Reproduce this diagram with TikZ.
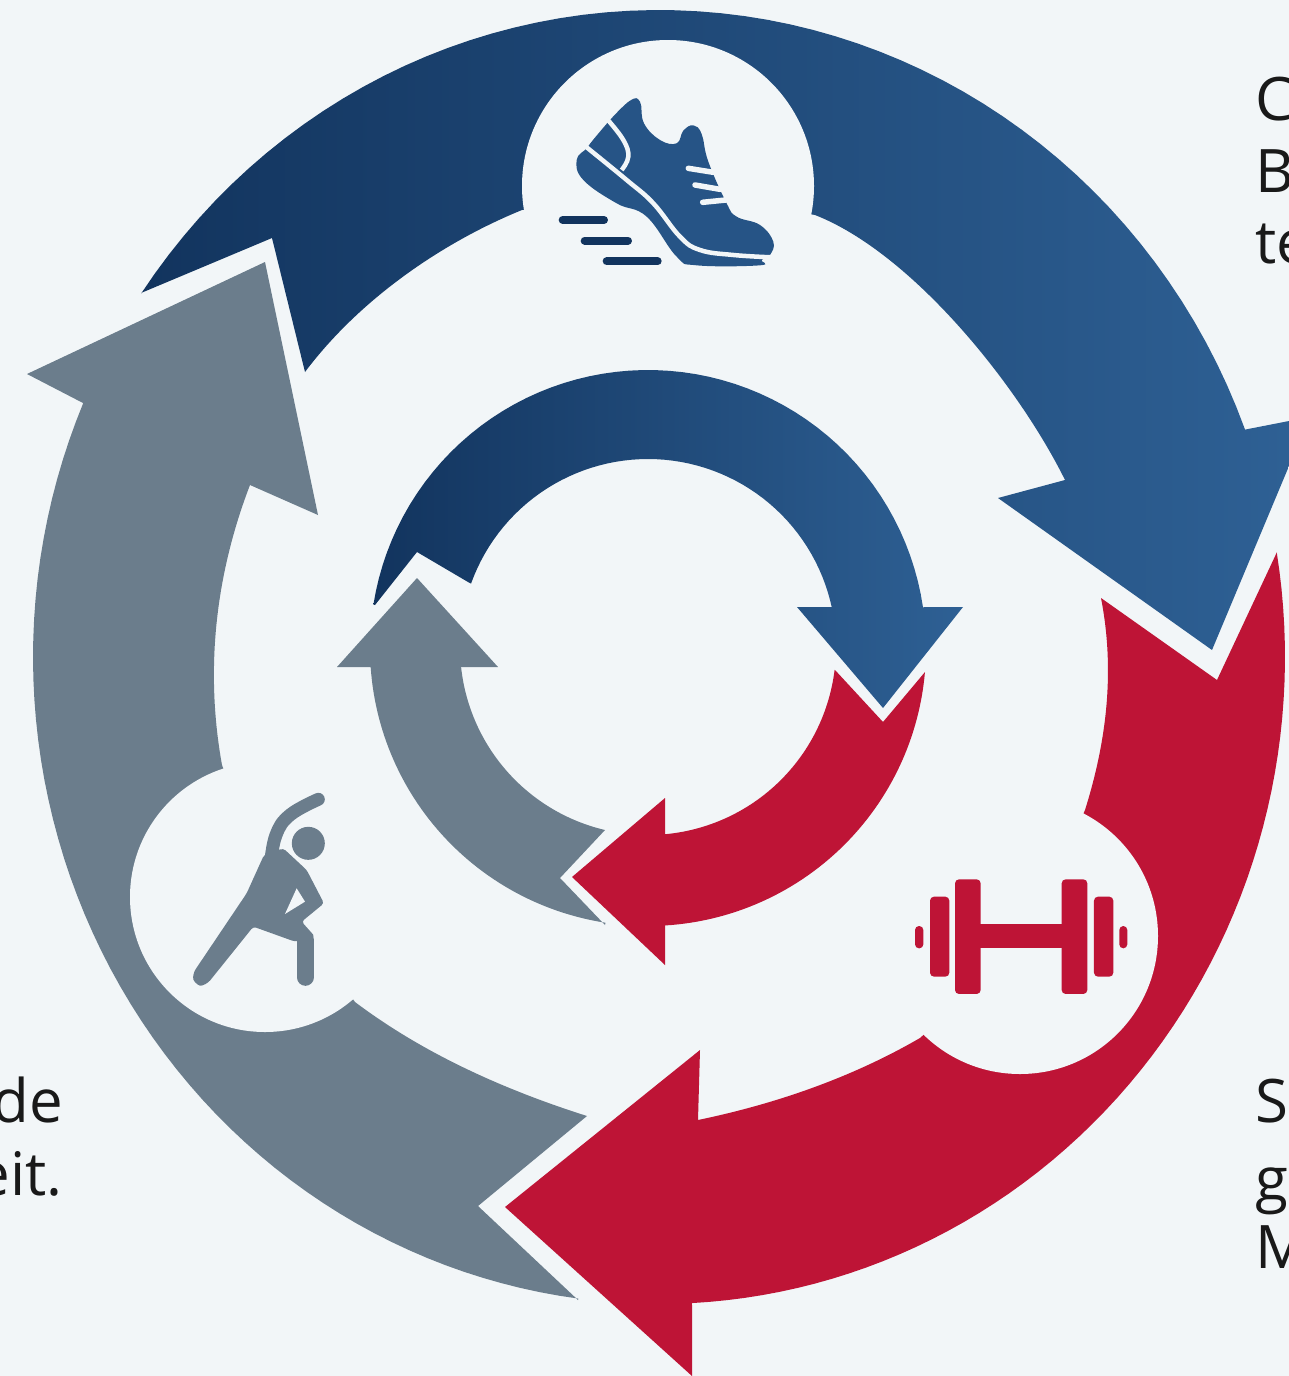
\documentclass[tikz,border=0pt]{standalone}
\usepackage{fontspec}
\setmainfont{Open Sans}
\usepackage{tikz}
\definecolor{paper}{HTML}{F2F6F8}
\definecolor{navydark}{HTML}{12345E}
\definecolor{navyshade}{HTML}{1F4A7A}
\definecolor{navymid}{HTML}{265486}
\definecolor{navylight}{HTML}{2E6094}
\definecolor{slategrey}{HTML}{6B7D8C}
\definecolor{crimson}{HTML}{BE1436}
\newcommand{\ringarc}[6]{-- plot[domain=#5:#6, samples=60, variable=\t] ({#1+#3*cos(\t)},{#2+#4*sin(\t)})}
\tikzset{
  navyfill/.style={left color=navydark, middle color=navyshade, right color=navylight},
  greyfill/.style={fill=slategrey},
  redfill/.style={fill=crimson},
  curve/.style={smooth, tension=0.7},
  badge/.style={circle, fill=paper, inner sep=0pt},
  clipped/.style={font=\fontsize{60}{72}\selectfont, text=black!90, inner sep=0pt},
  plate/.style={fill=crimson, rounded corners=4pt},
  limb/.style={draw=slategrey, line cap=round, line join=round},
}

\begin{document}
\begin{tikzpicture}[x=1pt, y=-1pt]
            \fill[paper] (0,0) rectangle (1289,1376);
            \useasboundingbox (0,0) rectangle (1289,1376);

            % outer ring
            \shade[navyfill] (141,293) \ringarc{659}{657}{626}{647}{214.2}{339.4}
              -- (1243,430) -- (1289,421) -- (1289,466) -- (1212,650) -- (998,498) -- (1065,480)
              .. controls (1018,385) and (912,253) .. (815,215) -- (668,190) -- (522,210)
              .. controls (441,243) and (359,300) .. (305,372)
              -- (272,238) -- cycle;
            \fill[greyfill] (83,403) \ringarc{659}{657}{626}{647}{203.1}{97.4}
              -- (578,1300) -- (478,1206) -- (587,1116)
              .. controls (505,1090) and (424,1054) .. (355,1002) -- (265,880) -- (222,765)
              .. controls (205,671) and (215,576) .. (250,485)
              -- (318,515) -- (265,262) -- (27,374) -- cycle;
            \fill[redfill] (1277,552) \ringarc{659}{657}{626}{647}{-9.3}{87}
              -- (692,1305) -- (692,1376) -- (505,1207) -- (700,1050) -- (698,1120)
              .. controls (775,1104) and (851,1078) .. (920,1038) -- (1030,940) -- (1085,810)
              .. controls (1107,740) and (1115,670) .. (1101,598)
              -- (1217,680) -- cycle;

            % inner ring
            \shade[navyfill] (375,605) \ringarc{648}{648}{278}{278}{189}{351.6}
              -- (925,607) -- (963,607) -- (883,708) -- (797,607) -- (835,607)
              \ringarc{648}{647}{188}{188}{-12}{-160.3}
              -- (468,582) -- (417,552) -- cycle;
            \fill[greyfill] (372,667) \ringarc{648}{648}{278}{278}{176}{98.8}
              -- (605,925) -- (560,878) -- (605,830)
              \ringarc{648}{647}{188}{188}{103.2}{173.9}
              -- (462,667) -- (498,667) -- (417,578) -- (337,667) -- cycle;
            \fill[redfill] (925,672) \ringarc{648}{648}{278}{278}{5}{86.5}
              -- (665,925) -- (665,965) -- (572,877) -- (665,798) -- (665,833)
              \ringarc{648}{647}{188}{188}{84.8}{7}
              -- (835,670) -- (883,722) -- cycle;

            \node[badge, minimum size=292pt] (shoeBadge)    at (668,186) {};
            \node[badge, minimum size=270pt] (stretchBadge) at (265,897) {};
            \node[badge, minimum size=276pt] (weightBadge)  at (1020,936) {};

            % shoe
            \begin{scope}[shift={(520,60)}, x=0.3333pt, y=-0.3333pt]
            \fill[navymid] plot[curve] coordinates {(270,180) (330,122) (360,125) (372,190) (420,240) (470,250) (490,212) (520,196) (545,222) (565,305) (620,430) (650,470) (720,495) (760,545) (750,585) (725,600) (720,616) (530,616) (470,590) (380,470) (290,430) (190,360) (170,300) (200,265) (215,245) (250,203) (270,180)} -- cycle;
            \draw[paper, line width=4.5pt, line cap=round] plot[curve] coordinates {(195,258) (320,360) (400,430) (480,530) (540,570) (640,585) (755,592)};
            \draw[paper, line width=4.5pt] plot[curve] coordinates {(262,178) (310,240) (325,290) (305,330)};
            \draw[paper, line width=5.5pt, line cap=round] (505,325) -- (580,337);
            \draw[paper, line width=5.5pt, line cap=round] (525,375) -- (600,388);
            \draw[paper, line width=5.5pt, line cap=round] (548,427) -- (618,420);
            \draw[navydark, line width=8pt, line cap=round] (128,480) -- (252,480);
            \draw[navydark, line width=8pt, line cap=round] (194,542) -- (324,542);
            \draw[navydark, line width=8pt, line cap=round] (260,604) -- (413,604);
            \end{scope}

            % stretching figure
            \begin{scope}[shift={(120,760)}, x=0.3333pt, y=-0.3333pt]
            \fill[slategrey] (565,250) circle [radius=16.5pt];
            \draw[limb, line width=13pt] plot[curve] coordinates {(595,118) (510,165) (468,225) (452,310)};
            \draw[limb, line width=17pt] (556,540) -- (556,652);
            \fill[slategrey, rounded corners=3pt] (432,285) -- (490,265) -- (560,330) -- (612,430) -- (545,485) -- (585,530) -- (525,545) -- (400,500)
              -- (265,668) -- (240,680) -- (218,660) -- (222,635) -- (380,400) -- cycle;
            \fill[paper] (530,385) -- (555,425) -- (495,462) -- cycle;
            \end{scope}

            % dumbbell
            \begin{scope}[shift={(890,850)}, x=0.3333pt, y=-0.3333pt]
            \fill[crimson] (270,222) rectangle (520,295);
            \fill[plate] (195,88) rectangle (272,432);
            \fill[plate] (515,88) rectangle (592,432);
            \fill[plate] (120,140) rectangle (178,380);
            \fill[plate] (612,140) rectangle (670,380);
            \fill[plate] (75,228) rectangle (100,295);
            \fill[plate] (688,228) rectangle (712,295);
            \end{scope}

            \node[clipped, anchor=base west] (runA) at (1255,120) {C};
            \node[clipped, anchor=base west] (runB) at (1255,192) {B};
            \node[clipped, anchor=base west] (runC) at (1255,263) {te};
            \node[clipped, anchor=base west] (liftA) at (1255,1122) {S};
            \node[clipped, anchor=base west] (liftB) at (1255,1200) {g};
            \node[clipped, anchor=base west] (liftC) at (1255,1268) {M};
            \node[clipped, anchor=base east] (bendA) at (63,1122) {de};
            \node[clipped, anchor=base east] (bendB) at (63,1195) {eit.};
            \end{tikzpicture}
\end{document}
